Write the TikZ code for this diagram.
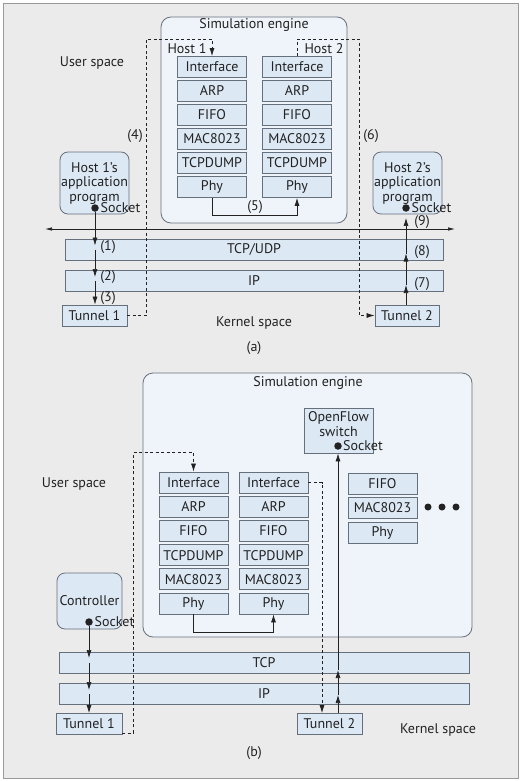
\documentclass[tikz,border=0pt]{standalone}
\usepackage{fontspec}
\setmainfont{PT Sans}
\usetikzlibrary{arrows.meta}
\usepackage{xcolor}
\definecolor{pagebg}{HTML}{EBEBEB}
\definecolor{framecol}{HTML}{9A9A9A}
\definecolor{boxfill}{HTML}{DCE8F4}
\definecolor{boxline}{HTML}{66707C}
\definecolor{enginefill}{HTML}{EEF4F9}
\definecolor{inkcol}{HTML}{222222}

\begin{document}
\begin{tikzpicture}[x=1pt,y=-1pt,
  every node/.style={text=inkcol, font=\fontsize{14}{14.5}\selectfont},
  layer/.style={draw=boxline, fill=boxfill, line width=0.8pt, minimum width=69pt, minimum height=21pt, inner sep=0pt},
  bar/.style={layer, minimum width=#1},
  app/.style={layer, rounded corners=8pt, align=center},
  engine/.style={draw=boxline, fill=enginefill, line width=0.8pt, rounded corners=10pt, inner sep=0pt},
  sock/.style={circle, fill=inkcol, inner sep=0pt, minimum size=7.5pt},
  flow/.style={draw=inkcol, line width=0.7pt, -{Latex[length=8pt,width=5pt]}},
  tunnelpath/.style={flow, dash pattern=on 3pt off 2.5pt},
  dot/.style={circle, fill=inkcol, inner sep=0pt, minimum size=7pt}]

  \useasboundingbox (0,0) rectangle (525,781);
  \fill[white] (0,0) rectangle (525,781);
  \draw[framecol, fill=pagebg, line width=0.8pt] (3,3) rectangle (518,778);

  % ---------- (a) ----------
  \node[engine, minimum width=186pt, minimum height=206pt] (engA) at (254,120) {};
  \node (engAtitle) at (254,25) {Simulation engine};
  \node (hostA) at (187,49) {Host 1};
  \node (hostB) at (324,49) {Host 2};
  \foreach \name [count=\i] in {Interface,ARP,FIFO,MAC8023,TCPDUMP,Phy} {
    \node[layer] (la\i) at (212,43+24*\i) {\name};
    \node[layer] (ra\i) at (297,43+24*\i) {\name};
  }
  \draw[flow] (la6.south) -- ++(0,17) -| (ra6.south);
  \node (n5) at (255,207) {(5)};

  \node[app, minimum width=69pt, minimum height=62pt] (appA) at (94.5,183) {Host 1’s\\application\\program};
  \node[app, minimum width=69pt, minimum height=62pt] (appB) at (407.5,183) {Host 2’s\\application\\program};
  \node[sock] (sockA) at (95,208) {};
  \node[sock] (sockB) at (406,208) {};
  \node[anchor=west, inner sep=1.5pt] at (sockA.east) {Socket};
  \node[anchor=west, inner sep=1.5pt] at (sockB.east) {Socket};

  \coordinate (splitL) at (45,229);
  \coordinate (splitR) at (455,229);
  \draw[draw=inkcol, line width=0.7pt, {Latex[length=7pt,width=3.5pt]}-{Latex[length=7pt,width=3.5pt]}] (splitL) -- (splitR);

  \node[bar=378pt] (tcpA) at (254,249.5) {TCP/UDP};
  \node[bar=378pt] (ipA) at (254,281) {IP};
  \node[layer, minimum width=65pt] (tunA1) at (94.5,315.5) {Tunnel 1};
  \node[layer, minimum width=64pt] (tunA2) at (407,315.5) {Tunnel 2};

  \draw[flow] (sockA) -- ([yshift=4pt]sockA |- tcpA.center);
  \draw[flow] (sockA |- tcpA.center) -- ([yshift=4pt]sockA |- ipA.center);
  \draw[flow] (sockA |- ipA.center) -- (sockA |- tunA1.north);
  \draw[flow] (sockB |- tunA2.north) -- ([yshift=-4pt]sockB |- ipA.center);
  \draw[flow] ([yshift=-4pt]sockB |- ipA.center) -- ([yshift=-4pt]sockB |- tcpA.center);
  \draw[flow] ([yshift=-4pt]sockB |- tcpA.center) -- ([yshift=-6pt]sockB.south);
  \node (n1) at (108,247) {(1)};
  \node (n2) at (108,277) {(2)};
  \node (n3) at (108,298) {(3)};
  \node (n7) at (422,284) {(7)};
  \node (n8) at (422,252) {(8)};
  \node (n9) at (422,222) {(9)};

  \draw[tunnelpath] (tunA1.east) -- ++(19,0) |- ([yshift=17pt]la1.north) -- (la1.north);
  \draw[tunnelpath] (ra1.north) -- ++(0,-17) -- ++(62,0) |- (tunA2.west);
  \node (n4) at (135,136) {(4)};
  \node (n6) at (371,136) {(6)};

  \node (userA) at (92,63) {User space};
  \node (kernA) at (254,323) {Kernel space};
  \node (capA) at (254,348) {(a)};

  % ---------- (b) ----------
  \node[engine, minimum width=329pt, minimum height=264pt] (engB) at (307.5,505) {};
  \node (engBtitle) at (308,383) {Simulation engine};
  \node[layer, minimum height=45pt] (ofs) at (338.5,430.5) {};
  \node[align=center] (ofstext) at (338.5,424) {OpenFlow\\switch};
  \node[sock] (sockOF) at (338,446) {};
  \node[anchor=west, inner sep=1pt] at (sockOF.east) {Socket};

  \foreach \name [count=\i] in {Interface,ARP,FIFO,TCPDUMP,MAC8023,Phy} {
    \node[layer] (lb\i) at (193.5,458.3+24.2*\i) {\name};
    \node[layer] (rb\i) at (273.5,458.3+24.2*\i) {\name};
  }
  \foreach \name [count=\i] in {FIFO,MAC8023,Phy} {
    \node[layer] (xb\i) at (382.5,459+24.5*\i) {\name};
  }
  \foreach \i/\x in {1/428,2/442,3/456} {
    \node[dot] (more\i) at (\x,507) {};
  }
  \draw[flow] (lb6.south) -- ++(0,18) -| (rb6.south);

  \node[app, minimum width=65pt, minimum height=56pt] (ctrl) at (89.5,601) {Controller};
  \node[sock] (sockC) at (89,622) {};
  \node[anchor=west, inner sep=1.5pt] at (sockC.east) {Socket};

  \node[bar=410pt] (tcpB) at (264,663) {TCP};
  \node[bar=410pt] (ipB) at (264,694) {IP};
  \node[layer, minimum width=66pt] (tunB1) at (89,724) {Tunnel 1};
  \node[layer, minimum width=65pt] (tunB2) at (329.5,724) {Tunnel 2};

  \draw[flow] (sockC) -- ([yshift=5pt]sockC |- tcpB.center);
  \draw[flow] (sockC |- tcpB.center) -- ([yshift=4pt]sockC |- ipB.center);
  \draw[flow] (sockC |- ipB.center) -- (sockC |- tunB1.north);
  \draw[flow] (sockOF |- tunB2.north) -- ([yshift=-1pt]sockOF |- ipB.center);
  \draw[flow] ([yshift=-1pt]sockOF |- ipB.center) -- ([yshift=-7pt]sockOF |- tcpB.center);
  \draw[flow] ([yshift=-7pt]sockOF |- tcpB.center) -- (sockOF |- ofs.south);

  \draw[tunnelpath] ([yshift=2pt]tunB1.south east) -- ++(11,0) |- ([yshift=19pt]lb1.north) -- (lb1.north);
  \draw[tunnelpath] (rb1.east) -| ([xshift=-7.5pt]tunB2.north);

  \node (userB) at (74,484) {User space};
  \node (kernB) at (438,730) {Kernel space};
  \node (capB) at (254,753) {(b)};
\end{tikzpicture}
\end{document}
